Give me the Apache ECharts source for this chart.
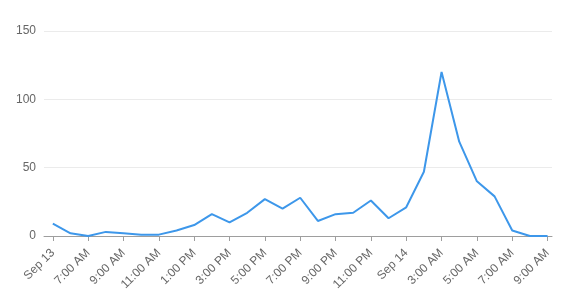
<!DOCTYPE html>
<html>
<head>
<meta charset="utf-8">
<script src="https://cdn.jsdelivr.net/npm/echarts@6/dist/echarts.min.js"></script>
<style>
html,body{margin:0;padding:0;background:#fff;}
#chart{width:564px;height:302px;}
</style>
</head>
<body>
<div id="chart"></div>
<script>
// hours since Sep 13, 5:00 AM
const hours = [0,1,2,3,4,5,6,7,8,9,10,11,12,13,14,15,16,17,18,19,20,21,22,23,24,25,26,27,28];
const values = [9,2,0,3,2,1,1,4,8,16,10,17,27,20,28,11,16,17,26,13,21,47,120,69,40,29,4,0,0];
const tickHours = [0,2,4,6,8,10,12,14,16,18,20,22,24,26,28];
const tickLabels = ['Sep 13','7:00 AM','9:00 AM','11:00 AM','1:00 PM','3:00 PM','5:00 PM','7:00 PM','9:00 PM','11:00 PM','Sep 14','3:00 AM','5:00 AM','7:00 AM','9:00 AM'];

const chart = echarts.init(document.getElementById('chart'), null, {renderer:'canvas'});
chart.setOption({
  animation:false,
  grid:{left:44,right:12,top:31,bottom:66,containLabel:false},
  xAxis:{
    type:'value', min:-0.5, max:28.25,
    axisLine:{show:true,lineStyle:{color:'#9e9e9e',width:1}},
    axisTick:{show:true,customValues:tickHours,length:5,lineStyle:{color:'#9e9e9e'}},
    axisLabel:{customValues:tickHours,rotate:45,margin:15,color:'#666',fontSize:12,fontFamily:'Liberation Sans, Arial',
      formatter:function(v){const i=tickHours.indexOf(Math.round(v));return i>=0?tickLabels[i]:'';}},
    splitLine:{show:false}
  },
  yAxis:{
    type:'value', min:0, max:150, interval:50,
    axisLine:{show:false}, axisTick:{show:false},
    axisLabel:{color:'#666',fontSize:12,margin:8,fontFamily:'Liberation Sans, Arial'},
    splitLine:{lineStyle:{color:'#ebebeb',width:1}}
  },
  series:[{
    type:'line', data:hours.map((h,i)=>[h,values[i]]),
    showSymbol:false, symbol:'none',
    lineStyle:{color:'#3d97ea',width:2},
    itemStyle:{color:'#3d97ea'}
  }]
});
</script>
</body>
</html>
